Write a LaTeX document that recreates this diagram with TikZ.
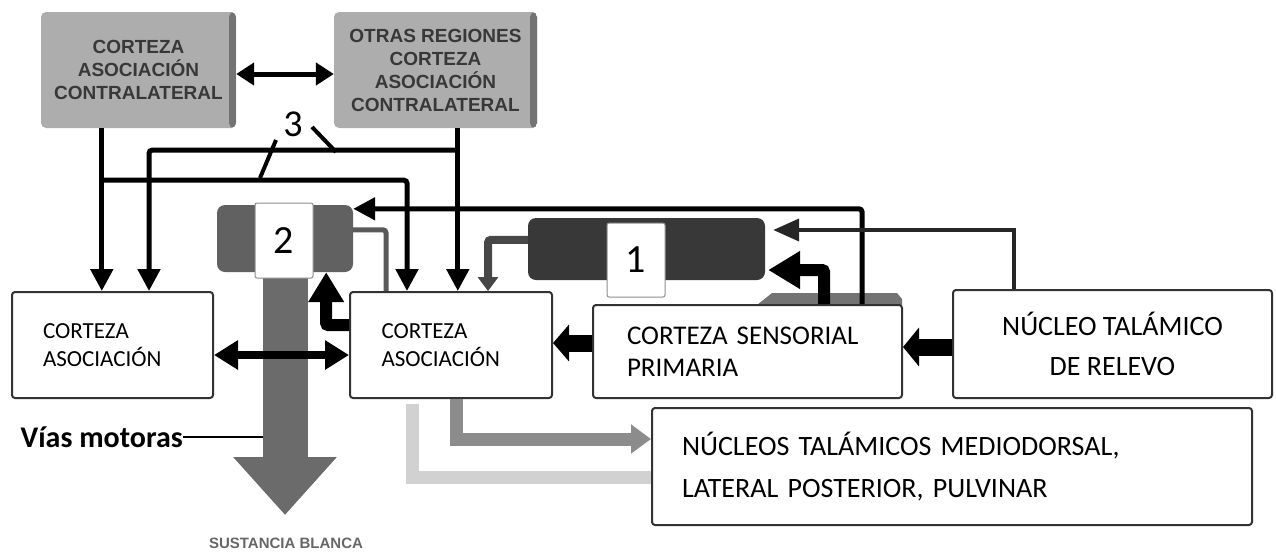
\documentclass[tikz,border=0pt]{standalone}
\usepackage{fontspec}
\setmainfont{Carlito}
\newfontfamily\arialfam{Liberation Sans}
\usetikzlibrary{arrows.meta,calc}
\begin{document}
\begin{tikzpicture}[x=1pt,y=-1pt,
  box/.style={draw=black!80, line width=2pt, rounded corners=3pt, fill=white, inner sep=0pt},
  topbox/.style={fill=black!32, rounded corners=5pt, inner sep=0pt, align=center, text=black!78, font=\arialfam\bfseries\fontsize{19}{23}\selectfont,
    path picture={\fill[black!55] ([xshift=-7pt]path picture bounding box.north east) rectangle (path picture bounding box.south east);}},
  numbox/.style={fill=white, draw=black!45, line width=1pt, rounded corners=2pt, inner sep=0pt, font=\fontsize{40}{40}\selectfont},
  conn/.style={line width=5pt, draw=black},
  tipA/.style={-{Triangle[width=22pt,length=22pt]}},
]
\useasboundingbox (0,0) rectangle (1276,555);

% top boxes
\node[topbox, minimum width=195pt, minimum height=116pt] (ca) at (138.5,70) {CORTEZA\\ASOCIACIÓN\\CONTRALATERAL};
\node[topbox, minimum width=203pt, minimum height=116pt] (ot) at (435.5,70) {OTRAS REGIONES\\CORTEZA\\ASOCIACIÓN\\CONTRALATERAL};

% box 2 with stem
\node[fill=black!62, rounded corners=8pt, minimum width=136pt, minimum height=67pt, inner sep=0pt] (b2) at (285,238.5) {};
\coordinate (sbtip) at (286,515);
\draw[line width=45pt, black!58, -{Triangle[width=100pt,length=58pt]}] (b2.south) -- (b2.south |- sbtip);
\node[numbox, minimum width=58pt, minimum height=75pt] (n2) at (284,240.5) {2};

% box 1
\node[fill=black!78, rounded corners=8pt, minimum width=237pt, minimum height=62pt, inner sep=0pt] (b1) at (646.5,249) {};
\node[numbox, minimum width=58pt, minimum height=74pt] (n1) at (636,260) {1};

% main boxes
\node[box, minimum width=201pt, minimum height=106pt, text width=139pt, align=left, font=\fontsize{23}{28}\selectfont] (lca) at (112.5,345) {CORTEZA\\ASOCIACIÓN};
\node[box, minimum width=202pt, minimum height=106pt, text width=139pt, align=left, font=\fontsize{23}{28}\selectfont] (mca) at (451,345) {CORTEZA\\ASOCIACIÓN};
\fill[black!55] (757,305) -- (772,293) -- (897,293) -- (902,299) -- (902,305) -- cycle;
\node[box, minimum width=309pt, minimum height=93pt, text width=241pt, align=left, font=\fontsize{27}{32}\selectfont] (sens) at (747.5,351.5) {CORTEZA SENSORIAL\\PRIMARIA};
\node[box, minimum width=319pt, minimum height=108pt, align=center, font=\fontsize{28}{40}\selectfont] (nuc) at (1112.5,344) {NÚCLEO TALÁMICO\\DE RELEVO};
\node[box, minimum width=600pt, minimum height=117pt, text width=540pt, align=left, font=\fontsize{28}{42}\selectfont] (nucs) at (952,466.5) {NÚCLEOS TALÁMICOS MEDIODORSAL,\\LATERAL POSTERIOR, PULVINAR};

% labels
\node[font=\arialfam\bfseries\fontsize{15}{15}\selectfont, text=black!60] (sb) at (286,543) {SUSTANCIA BLANCA};
\node[anchor=east, font=\bfseries\fontsize{30}{30}\selectfont, inner sep=0pt] (vm) at (183,437) {Vías motoras};
\coordinate (stemL) at (263,437);
\draw[line width=2pt] (vm.east) -- (stemL);
\node[font=\fontsize{38}{38}\selectfont, inner sep=0pt] (three) at (293,124) {3};
\draw[line width=4pt] ($(three)+(-17,16)$) -- ($(three)+(-33,54)$);
\draw[line width=4pt] ($(three)+(19,3)$) -- ($(three)+(43,28)$);

% top connectors
\draw[line width=5pt, {Triangle[width=22pt,length=18pt]}-{Triangle[width=22pt,length=18pt]}] ([yshift=-4pt]ca.east) -- ([yshift=-4pt]ot.west);
\coordinate (a1) at ($(ca.south west)+(61,0)$);
\draw[conn, tipA] (a1) -- (a1 |- lca.north);
\draw[conn, tipA, rounded corners=3pt] ($(a1)+(0,52)$) -| ($(mca.north west)+(58,0)$);
\coordinate (o1) at ($(ot.south west)+(124,0)$);
\draw[conn, tipA] (o1) -- (o1 |- mca.north);
\draw[conn, tipA, rounded corners=3pt] ($(o1)+(0,22)$) -| ($(lca.north west)+(138,0)$);

% around box 1 and 2
\draw[conn, tipA, rounded corners=3pt] ($(sens.north west)+(270,0)$) |- ($(b2.north east)+(0,4)$);
\draw[line width=8pt, black!72, -{Triangle[width=20pt,length=14pt]}, rounded corners=3pt] ($(b1.north west)+(0,22)$) -| ($(mca.north west)+(139,0)$);
\draw[line width=5pt, black!65, rounded corners=3pt] ($(b2.north east)+(0,25)$) -| ($(mca.north west)+(37,0)$);
\draw[line width=12pt, -{Triangle[width=34pt,length=30pt]}, rounded corners=2pt] ($(mca.north west)+(0,34)$) -| ($(b2.south east)+(-27,0)$);
\draw[line width=4pt, black!85, -{Triangle[width=22pt,length=26pt]}] ($(nuc.north west)+(62,0)$) |- ($(b1.east)+(8,-19)$);
\draw[line width=12pt, -{Triangle[width=36pt,length=32pt]}, rounded corners=2pt] ($(sens.north west)+(232,0)$) |- ($(b1.east)+(3,21)$);

% horizontal thick arrows
\coordinate (s1) at ($(sens.west)+(0,-8.5)$);
\draw[line width=17pt, -{Triangle[width=36pt,length=16pt]}] (s1) -- (s1 -| mca.east);
\coordinate (k1) at ($(nuc.west)+(0,3)$);
\draw[line width=17pt, -{Triangle[width=38pt,length=16pt]}] (k1) -- (k1 -| sens.east);
\coordinate (l1) at ($(lca.east)+(0,10)$);
\draw[line width=8pt, {Triangle[width=28pt,length=24pt]}-{Triangle[width=28pt,length=24pt]}] (l1) -- (l1 -| mca.west);

% to nucleos
\draw[line width=13pt, black!45, -{Triangle[width=28pt,length=20pt]}] ($(mca.south west)+(107,0)$) |- (nucs.west |- 0,439);
\draw[line width=13pt, black!18] ($(mca.south west)+(63,5)$) |- (nucs.west |- 0,477);
\end{tikzpicture}
\end{document}
